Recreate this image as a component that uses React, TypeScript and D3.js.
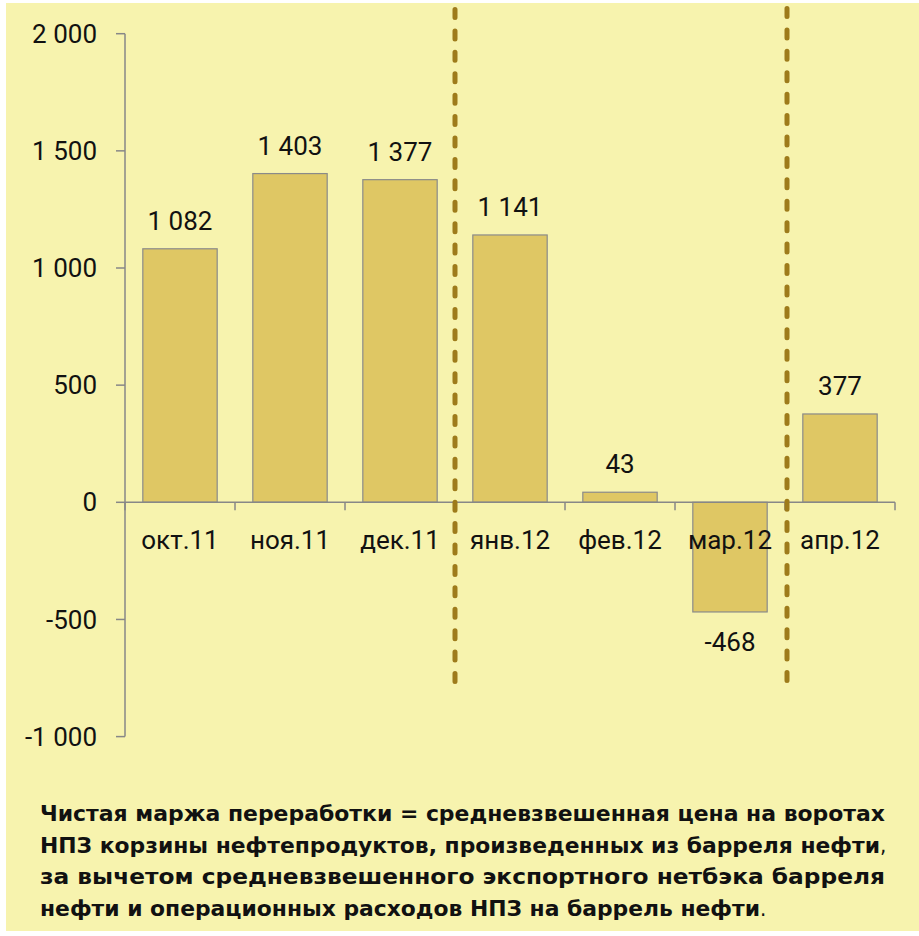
import React from "react";
import * as d3 from "d3";

const categories = ["окт.11", "ноя.11", "дек.11", "янв.12", "фев.12", "мар.12", "апр.12"];
const values = [1082, 1403, 1377, 1141, 43, -468, 377];
const yTicks = [-1000, -500, 0, 500, 1000, 1500, 2000];
const dividerAfter = ["дек.11", "мар.12"];
const noteLines = [
  { bold: "Чистая маржа переработки = средневзвешенная цена на воротах", tail: "" },
  { bold: "НПЗ корзины нефтепродуктов, произведенных из барреля нефти", tail: "," },
  { bold: "за вычетом средневзвешенного экспортного нетбэка барреля", tail: "" },
  { bold: "нефти  и операционных расходов НПЗ на баррель нефти", tail: "." },
];

const locale = d3.formatLocale({
  decimal: ",",
  thousands: " ",
  grouping: [3],
  currency: ["", ""],
  minus: "-",
});
const fmt = locale.format(",d");

export default function App() {
  const W = 919;
  const H = 936;
  const left = 125;
  const right = 895;
  const x = d3
    .scaleBand<string>()
    .domain(categories)
    .range([left, right])
    .paddingInner(0.324)
    .paddingOuter(0.162);
  const y = d3.scaleLinear().domain([-1000, 2000]).range([736.6, 33.7]);
  const step = x.step();
  const axisColor = "#878787";
  const numFont = "Roboto, 'Noto Sans', sans-serif";
  const y0 = y(0);

  const noteWidths = [845, 840, 845, 720];
  const noteBase = 821;
  const noteGap = 31.7;

  const dashOn = 8;
  const dashOff = 13.42;
  const dashCount = 31;

  return (
    <svg
      width={W}
      height={H}
      style={{ position: "absolute", left: 0, top: 0, background: "#ffffff" }}
    >
      <rect x={6} y={3} width={W - 6} height={928} fill="#F7F3AE" />

      {categories.map((c, i) => {
        const v = values[i];
        const top = y(Math.max(0, v));
        const bot = y(Math.min(0, v));
        return (
          <rect
            key={c}
            x={x(c)}
            y={top}
            width={x.bandwidth()}
            height={bot - top}
            fill="#DFC764"
            stroke="#8A8A8A"
            strokeWidth={1.2}
          />
        );
      })}

      <line x1={left} x2={left} y1={y(2000)} y2={y(-1000)} stroke={axisColor} strokeWidth={1.5} />
      {yTicks.map((t) => (
        <g key={t}>
          <line x1={left - 9} x2={left} y1={y(t)} y2={y(t)} stroke={axisColor} strokeWidth={1.5} />
          <text
            x={97}
            y={y(t)}
            dy="0.35em"
            textAnchor="end"
            fontFamily={numFont}
            fontSize={26}
            fill="#111"
          >
            {fmt(t)}
          </text>
        </g>
      ))}

      <line x1={left} x2={right} y1={y0} y2={y0} stroke={axisColor} strokeWidth={1.5} />
      {d3.range(categories.length + 1).map((i) => (
        <line
          key={i}
          x1={left + i * step}
          x2={left + i * step}
          y1={y0}
          y2={y0 + 8}
          stroke={axisColor}
          strokeWidth={1.5}
        />
      ))}
      {categories.map((c) => (
        <text
          key={c}
          x={(x(c) as number) + x.bandwidth() / 2}
          y={549}
          textAnchor="middle"
          fontFamily={numFont}
          fontSize={26}
          fill="#111"
        >
          {c}
        </text>
      ))}

      {categories.map((c, i) => {
        const v = values[i];
        const cx = (x(c) as number) + x.bandwidth() / 2;
        const ly = v >= 0 ? y(v) - 19 : y(v) + 39;
        return (
          <text
            key={c}
            x={cx}
            y={ly}
            textAnchor="middle"
            fontFamily={numFont}
            fontSize={26}
            fill="#111"
          >
            {fmt(v)}
          </text>
        );
      })}

      {dividerAfter.map((c, i) => {
        const xx = (x(c) as number) + x.bandwidth() + (step - x.bandwidth()) / 2 + (i === 1 ? 2 : 0);
        const y1 = i === 0 ? 9.5 : 8.5;
        const y2 = y1 + dashCount * (dashOn + dashOff) + dashOn;
        return (
          <line
            key={c}
            x1={xx}
            x2={xx}
            y1={y1}
            y2={y2}
            stroke="#9E7B1B"
            strokeWidth={5}
            strokeLinecap="round"
            strokeDasharray={`${dashOn} ${dashOff}`}
          />
        );
      })}

      {noteLines.map((ln, i) => (
        <text
          key={i}
          x={40}
          y={noteBase + i * noteGap}
          fontFamily="'Liberation Sans Narrow', 'DejaVu Sans Condensed', 'Noto Sans', sans-serif"
          fontSize={22}
          fill="#111"
        >
          <tspan
            fontWeight="bold"
            textLength={noteWidths[i]}
            lengthAdjust="spacingAndGlyphs"
          >
            {ln.bold}
          </tspan>
          {ln.tail ? <tspan fontWeight="normal">{ln.tail}</tspan> : null}
        </text>
      ))}
    </svg>
  );
}
